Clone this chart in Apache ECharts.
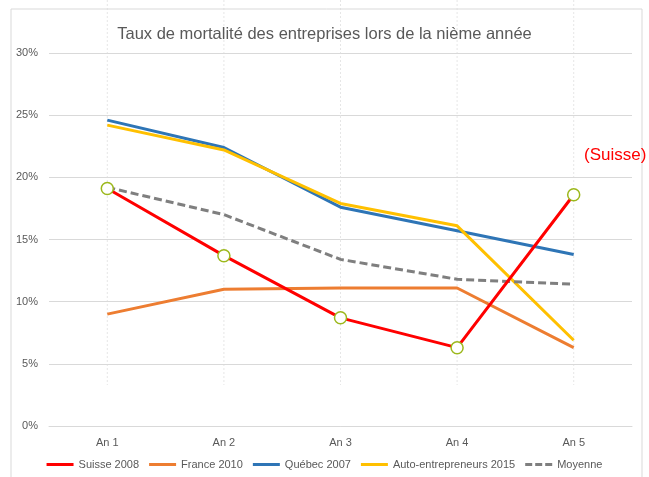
<!DOCTYPE html>
<html>
<head>
<meta charset="utf-8">
<script src="https://cdn.jsdelivr.net/npm/echarts@6/dist/echarts.min.js"></script>
<style>
    html, body { margin: 0; padding: 0; background: #fff; }
    #chart { width: 649px; height: 477px; }
</style>
</head>
<body>
<div id="chart"></div>
<script>
// --- données ---
const categories = ['An 1', 'An 2', 'An 3', 'An 4', 'An 5'];
const suisse2008 = [19.1, 13.7, 8.7, 6.3, 18.6];
const france2010 = [9.0, 11.0, 11.1, 11.1, 6.3];
const quebec2007 = [24.6, 22.4, 17.6, 15.7, 13.8];
const autoEntrepreneurs2015 = [24.2, 22.2, 17.9, 16.1, 6.9];
const moyenne = [19.2, 17.0, 13.4, 11.8, 11.4];

const font = 'Liberation Sans';
const textGray = '#595959';

const chart = echarts.init(document.getElementById('chart'));

function lineSerie(name, data, color, extra) {
    return Object.assign({
        name: name,
        type: 'line',
        data: data,
        symbol: 'none',
        lineStyle: { color: color, width: 3 },
        itemStyle: { color: color },
        z: 2
    }, extra || {});
}

const option = {
    animation: false,
    textStyle: { fontFamily: font },
    title: {
        text: 'Taux de mortalité des entreprises lors de la nième année',
        left: 'center',
        top: 21,
        textStyle: { fontFamily: font, fontSize: 16.5, fontWeight: 'normal', color: textGray }
    },
    grid: { left: 49, right: 17, top: 53, bottom: 51 },
    legend: {
        bottom: 2,
        left: 'center',
        itemWidth: 27,
        itemHeight: 3,
        itemGap: 10,
        textStyle: { fontFamily: font, fontSize: 11, color: textGray },
        data: [
            { name: 'Suisse 2008', icon: 'rect', itemStyle: { color: '#ff0000', borderWidth: 0 } },
            { name: 'France 2010', icon: 'rect' },
            { name: 'Québec 2007', icon: 'rect' },
            { name: 'Auto-entrepreneurs 2015', icon: 'rect' },
            { name: 'Moyenne', icon: 'path://M0,0h7v3h-7z M10,0h7v3h-7z M20,0h7v3h-7z' }
        ]
    },
    xAxis: {
        type: 'category',
        data: categories,
        axisLine: { lineStyle: { color: '#d9d9d9' } },
        axisTick: { show: false },
        axisLabel: { color: textGray, fontSize: 11, margin: 11, fontFamily: font }
    },
    yAxis: {
        type: 'value',
        min: 0,
        max: 30,
        interval: 5,
        axisLabel: { formatter: '{value}%', color: textGray, fontSize: 11, margin: 11, fontFamily: font },
        splitLine: { lineStyle: { color: '#d9d9d9', width: 1 } }
    },
    series: [
        lineSerie('France 2010', france2010, '#ed7d31'),
        lineSerie('Québec 2007', quebec2007, '#2e75b6'),
        lineSerie('Auto-entrepreneurs 2015', autoEntrepreneurs2015, '#ffc000'),
        lineSerie('Moyenne', moyenne, '#7f7f7f', {
            lineStyle: { color: '#7f7f7f', width: 3, type: [8, 4] }
        }),
        lineSerie('Suisse 2008', suisse2008, '#ff0000', {
            symbol: 'circle',
            symbolSize: 12,
            showSymbol: true,
            itemStyle: { color: '#ffffff', borderColor: '#9cb81c', borderWidth: 1.5 },
            z: 3
        })
    ]
};

chart.setOption(option);

// lignes de fond pointillées + cadre + annotation
const vLines = categories.map(c => {
    const x = chart.convertToPixel({ xAxisIndex: 0 }, c);
    return {
        type: 'line',
        shape: { x1: x, y1: 0, x2: x, y2: 385 },
        style: { stroke: '#e6e6e6', lineWidth: 1, lineDash: [2, 2] },
        z: -1
    };
});

chart.setOption({
    graphic: vLines.concat([
        {
            type: 'rect',
            shape: { x: 11, y: 9, width: 631, height: 480 },
            style: { fill: 'transparent', stroke: '#d9d9d9', lineWidth: 1 },
            z: -1
        },
        {
            type: 'text',
            left: 584,
            top: 147,
            style: { text: '(Suisse)', fill: '#ff0000', fontSize: 17, fontFamily: font }
        }
    ])
});
</script>
</body>
</html>
